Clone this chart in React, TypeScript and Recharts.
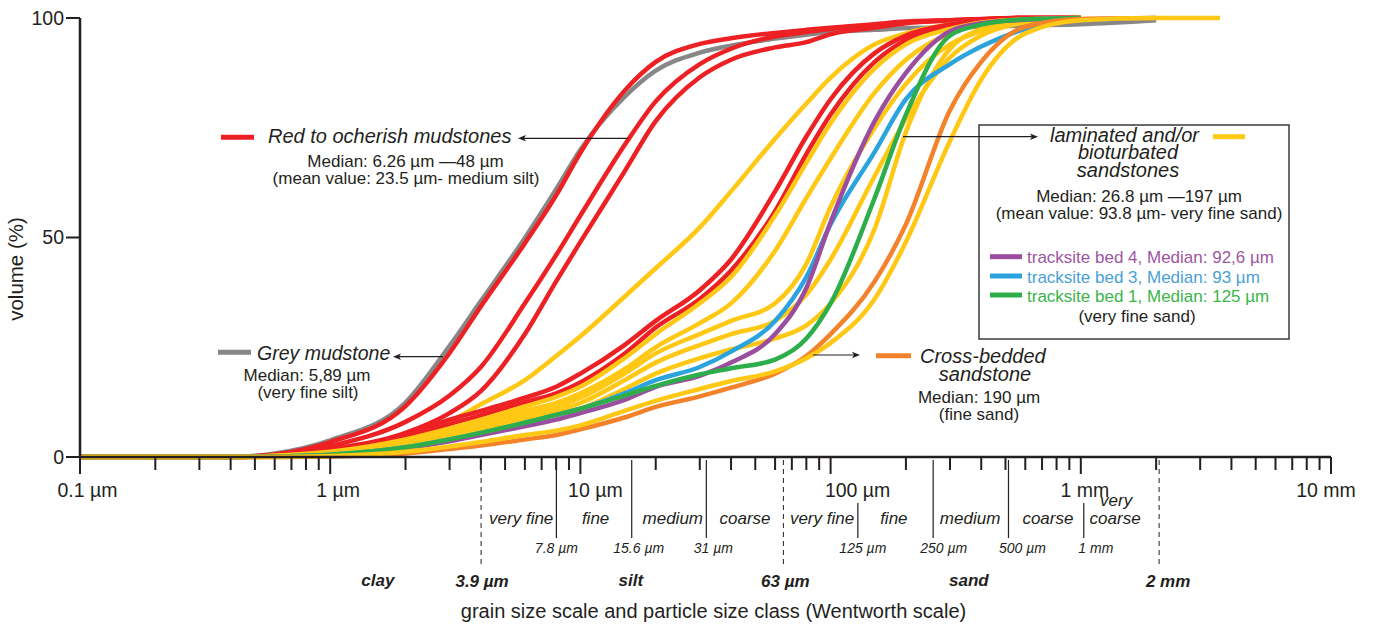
import React from "react";
import { LineChart, Line, XAxis, YAxis } from "recharts";

const FONT = '"Liberation Sans", Arial, Helvetica, sans-serif';
const INK = "#231F20";

const RED = "#ED2024";
const GREY = "#878787";
const YELLOW = "#FFC814";
const PURPLE = "#9A4F9E";
const BLUE = "#2BA3DC";
const GREEN = "#2DAE4B";
const ORANGE = "#F4822A";

// grain sizes (µm) where the cumulative curves were read
const sizes = [0.1, 0.4, 0.6, 1, 2, 3, 4, 6, 8, 10, 15, 20, 30, 40, 60, 80, 100, 150, 200, 300, 400, 600, 1000, 2000, 3600];

// cumulative volume (%) per sample
const greyMud = [0, 0, 0.8, 3.8, 12.4, 25.3, 35.5, 49.9, 61, 70, 82, 88, 92.1, 93.7, 95.3, 96.2, 96.8, 97.3, 97.7, 97.9, 98, 98.3, 98.6, 99.5, null];
const red1 = [0, 0, 0.6, 3.4, 11.6, 23.7, 34.3, 48.7, 59.6, 69.3, 83.4, 90, 94.1, 95.4, 96.6, 97.3, 97.8, 98.6, 99.2, 99.5, 99.7, 100, 100, null, null];
const red2 = [0, 0, 0.4, 2.5, 8, 14, 20.5, 35, 46, 55, 71, 81, 89.5, 93, 95.8, 96.8, 97.5, 98.4, 99, 99.5, 99.8, 100, 100, null, null];
const red3 = [0, 0, 0.3, 1.8, 5.5, 10, 15, 28, 40, 49, 65, 76.5, 86.5, 90.5, 93.3, 94.5, 96.3, 97.8, 98.8, 99.4, 99.7, 100, 100, null, null];
const red4 = [0, 0, 0.4, 1.5, 5, 8.5, 10.5, 13.5, 16, 19, 25.5, 31, 38, 45, 60.5, 73, 81.5, 92, 96, 98.5, 99.5, 100, 100, null, null];
const red5 = [0, 0, 0.3, 1.2, 4.3, 7.5, 9.5, 12.5, 14.5, 17, 23.5, 29.5, 36, 42.5, 56, 69, 78, 90, 95, 98.3, 99.4, 100, 100, null, null];
const lam1 = [0, 0, 0.1, 0.8, 3.5, 8, 12, 17.5, 23, 27.5, 36.5, 43, 52.3, 60.5, 72.5, 80.5, 86.4, 94, 96.5, 98.5, 99.3, 99.8, 100, null, null];
const lam2 = [0, 0, 0.3, 1.2, 4, 6.5, 8.5, 11.5, 13.7, 16, 22.5, 28, 35, 41, 55, 67, 76, 88.5, 94, 97.5, 99, 99.7, 100, null, null];
const lam3 = [0, 0, 0.2, 1, 3.5, 6, 7.8, 10.5, 12.3, 14.5, 20, 25, 30.5, 35, 47, 59, 68, 83, 90.5, 96.5, 98.5, 99.5, 100, null, null];
const lam4 = [0, 0, 0.2, 0.9, 3.2, 5.5, 7.2, 9.6, 11.4, 13.5, 19, 23.6, 28, 31, 35, 44, 57, 75, 85, 94, 97, 99, 100, null, null];
const lam5 = [0, 0, 0.1, 0.7, 2.8, 5, 6.6, 8.8, 10.5, 12.3, 17.5, 21.5, 25.5, 28, 31, 37, 45, 64, 77, 91, 96, 99, 100, null, null];
const lam6 = [0, 0, 0.1, 0.6, 2.5, 4.5, 5.9, 8, 9.6, 11, 15.5, 19, 22.5, 24.5, 27, 30, 35, 52, 74, 93, 97.5, 99.5, 100, null, null];
const lam7 = [0, 0, 0, 0.2, 1.2, 2.4, 3.4, 5, 6, 7.2, 10.5, 12.8, 15.5, 17.3, 19.5, 22.5, 26, 36, 49, 72, 86, 96.5, 99.5, 100, 100];
const bed4 = [0, 0, 0.1, 0.4, 2, 3.6, 5, 7, 8.5, 10, 13, 16, 18.5, 21.5, 28, 38.5, 53.5, 76.5, 87.5, 97, 98.8, 99.6, 100, null, null];
const bed3 = [0, 0, 0.1, 0.5, 2.2, 4, 5.5, 7.8, 9.6, 11, 14.5, 17.5, 20.5, 24, 31, 41, 53, 69.5, 81.5, 89.5, 93.5, 97.5, 99.6, 100, null];
const bed1 = [0, 0, 0.1, 0.5, 2.2, 4, 5.5, 7.8, 9.6, 11, 14, 16.2, 18.8, 20.2, 22.2, 27, 35, 59, 78, 96, 98.5, 99.7, 100, null, null];
const crossBed = [0, 0, 0, 0.1, 0.8, 1.8, 2.6, 4, 5, 6.3, 9, 11.4, 13.8, 15.8, 19, 23, 28, 40, 53, 79, 90, 98, 99.8, 100, null];

const series = [
  { key: "greyMud", values: greyMud, color: GREY },
  { key: "red1", values: red1, color: RED },
  { key: "red2", values: red2, color: RED },
  { key: "red3", values: red3, color: RED },
  { key: "lam1", values: lam1, color: YELLOW },
  { key: "red4", values: red4, color: RED },
  { key: "red5", values: red5, color: RED },
  { key: "lam2", values: lam2, color: YELLOW },
  { key: "lam3", values: lam3, color: YELLOW },
  { key: "lam4", values: lam4, color: YELLOW },
  { key: "lam5", values: lam5, color: YELLOW },
  { key: "lam6", values: lam6, color: YELLOW },
  { key: "bed3", values: bed3, color: BLUE },
  { key: "bed4", values: bed4, color: PURPLE },
  { key: "bed1", values: bed1, color: GREEN },
  { key: "crossBed", values: crossBed, color: ORANGE },
  { key: "lam7", values: lam7, color: YELLOW },
];

const rows = sizes.map((s, i) => {
  const row: Record<string, number | null> = { s };
  series.forEach((sr) => (row[sr.key] = sr.values[i]));
  return row;
});

// x axis: decades, minor ticks, Wentworth classes
const decadeTicks = [0.1, 1, 10, 100, 1000, 10000];
const decadeLabels = ["0.1 µm", "1 µm", "10 µm", "100 µm", "1 mm", "10 mm"];
const decadeDx = [7.5, 8, 15, 27, 4, -5];
const minorTicks = [2, 3, 4, 5, 6, 7, 8, 9].flatMap((d) =>
  [0.1, 1, 10, 100, 1000].map((m) => +(d * m).toPrecision(3))
);
const bounds = [3.9, 7.8, 15.6, 31, 63, 125, 250, 500, 1000, 2000];
const boundLabels = ["3.9 µm", "7.8 µm", "15.6 µm", "31 µm", "63 µm", "125 µm", "250 µm", "500 µm", "1 mm", "2 mm"];
const boundDx = [4, 3, 10, 10, 5, 8, 13.5, 17, 15, 12];
const mainBounds = [3.9, 63, 2000];
const subClassAt = [5.8, 11.5, 23.4, 45.5, 92.4, 179, 361, 739, 1371];
const subClassNames = ["very fine", "fine", "medium", "coarse", "very fine", "fine", "medium", "coarse", "very coarse"];
const classAt = [1.55, 15.9, 357];
const classNames = ["clay", "silt", "sand"];

const same = (a: number, b: number) => Math.abs(a - b) / b < 1e-6;
const findIn = (arr: number[], v: number) => arr.findIndex((a) => same(a, v));

const allTicks = Array.from(
  new Set([...decadeTicks, ...minorTicks, ...bounds, ...subClassAt, ...classAt])
).sort((a, b) => a - b);

function SizeTick(props: any) {
  const { x, y, payload } = props;
  const v = payload.value as number;
  const out: React.ReactNode[] = [];
  const d = findIn(decadeTicks, v);
  if (d >= 0) {
    out.push(<line key="dt" x1={x} x2={x} y1={y} y2={y + 17} stroke={INK} strokeWidth={2} />);
    out.push(
      <text key="dl" x={x + decadeDx[d]} y={y + 40} textAnchor="middle" fontSize={19.5} fill={INK}>
        {decadeLabels[d]}
      </text>
    );
  }
  if (findIn(minorTicks, v) >= 0) {
    out.push(<line key="mt" x1={x} x2={x} y1={y} y2={y + 13} stroke={INK} strokeWidth={2} />);
  }
  const b = findIn(bounds, v);
  if (b >= 0) {
    const bx = x + 3;
    if (findIn(mainBounds, v) >= 0) {
      out.push(
        <line key="bl" x1={bx} x2={bx} y1={y + 3} y2={y + 111} stroke={INK} strokeWidth={1} strokeDasharray="5 4" />
      );
      out.push(
        <text key="bt" x={x + boundDx[b]} y={y + 130} textAnchor="middle" fontSize={17} fontWeight="bold" fontStyle="italic" fill={INK}>
          {boundLabels[b]}
        </text>
      );
    } else {
      const top = v === 125 || v === 1000 ? y + 46 : y + 3;
      out.push(<line key="bl" x1={bx} x2={bx} y1={top} y2={y + 81} stroke={INK} strokeWidth={1.2} />);
      out.push(
        <text key="bt" x={x + boundDx[b]} y={y + 96} textAnchor="middle" fontSize={14} fontStyle="italic" fill={INK}>
          {boundLabels[b]}
        </text>
      );
    }
  }
  const sc = findIn(subClassAt, v);
  if (sc >= 0) {
    const name = subClassNames[sc];
    if (name === "very coarse") {
      out.push(
        <text key="sc" x={x} textAnchor="middle" fontSize={17} fontStyle="italic" fill={INK}>
          <tspan x={x + 1} y={y + 49}>very</tspan>
          <tspan x={x} y={y + 67}>coarse</tspan>
        </text>
      );
    } else {
      out.push(
        <text key="sc" x={x} y={y + 67} textAnchor="middle" fontSize={17} fontStyle="italic" fill={INK}>
          {name}
        </text>
      );
    }
  }
  const c = findIn(classAt, v);
  if (c >= 0) {
    out.push(
      <text key="cl" x={x} y={y + 129} textAnchor="middle" fontSize={17} fontWeight="bold" fontStyle="italic" fill={INK}>
        {classNames[c]}
      </text>
    );
  }
  return <g fontFamily={FONT}>{out}</g>;
}

function Arrow({ x1, x2, y }: { x1: number; x2: number; y: number }) {
  const dir = x2 > x1 ? 1 : -1;
  return (
    <g>
      <line x1={x1} y1={y} x2={x2 - dir * 5} y2={y} stroke={INK} strokeWidth={1.2} />
      <path d={`M${x2},${y} L${x2 - dir * 8},${y - 3.2} L${x2 - dir * 6},${y} L${x2 - dir * 8},${y + 3.2} Z`} fill={INK} />
    </g>
  );
}

function Annotations() {
  const t = { fontFamily: FONT, fill: INK } as const;
  return (
    <svg width={1377} height={628} style={{ position: "absolute", left: 0, top: 0, pointerEvents: "none" }}>
      {/* y axis title */}
      <text {...t} fontSize={20.5} textAnchor="middle" transform="translate(23,269) rotate(-90)">
        volume (%)
      </text>
      {/* x axis title */}
      <text {...t} fontSize={20} x={713.5} y={618} textAnchor="middle">
        grain size scale and particle size class (Wentworth scale)
      </text>

      {/* red mudstones */}
      <line x1={221} x2={254} y1={137.3} y2={137.3} stroke={RED} strokeWidth={5} />
      <text {...t} x={268} y={143} fontSize={20} fontStyle="italic">Red to ocherish mudstones</text>
      <Arrow x1={628} x2={518} y={138.3} />
      <text {...t} fontSize={17} textAnchor="middle">
        <tspan x={405.5} y={167}>Median: 6.26 µm —48 µm</tspan>
        <tspan x={406} y={184}>(mean value: 23.5 µm- medium silt)</tspan>
      </text>

      {/* grey mudstone */}
      <line x1={218} x2={251} y1={352.3} y2={352.3} stroke={GREY} strokeWidth={5} />
      <text {...t} x={257} y={360} fontSize={19.5} fontStyle="italic">Grey mudstone</text>
      <Arrow x1={443} x2={393} y={356.7} />
      <text {...t} fontSize={17} textAnchor="middle">
        <tspan x={307} y={381}>Median: 5,89 µm</tspan>
        <tspan x={308} y={398}>(very fine silt)</tspan>
      </text>

      {/* laminated sandstones box */}
      <rect x={979} y={125} width={310} height={214} fill="none" stroke="#3a3a3a" strokeWidth={1.5} />
      <Arrow x1={903} x2={1038} y={136.7} />
      <text {...t} fontSize={20} fontStyle="italic">
        <tspan x={1050} y={142} textAnchor="start">laminated and/or</tspan>
        <tspan x={1128} y={159.3} textAnchor="middle">bioturbated</tspan>
        <tspan x={1128} y={177} textAnchor="middle">sandstones</tspan>
      </text>
      <line x1={1213} x2={1245} y1={136.7} y2={136.7} stroke={YELLOW} strokeWidth={5} />
      <text {...t} fontSize={17} textAnchor="middle">
        <tspan x={1139} y={202}>Median: 26.8 µm —197 µm</tspan>
        <tspan x={1139} y={218.5}>(mean value: 93.8 µm- very fine sand)</tspan>
      </text>
      <line x1={990} x2={1022} y1={256.7} y2={256.7} stroke={PURPLE} strokeWidth={5} />
      <text fontFamily={FONT} fill="#9E56A2" x={1027} y={263.3} fontSize={17}>tracksite bed 4, Median: 92,6 µm</text>
      <line x1={990} x2={1022} y1={276} y2={276} stroke={BLUE} strokeWidth={5} />
      <text fontFamily={FONT} fill="#4A9FD6" x={1027} y={282.7} fontSize={17}>tracksite bed 3, Median: 93 µm</text>
      <line x1={990} x2={1022} y1={295} y2={295} stroke={GREEN} strokeWidth={5} />
      <text fontFamily={FONT} fill="#3AB54A" x={1027} y={301.7} fontSize={17}>tracksite bed 1, Median: 125 µm</text>
      <text {...t} x={1137} y={322} fontSize={17} textAnchor="middle">(very fine sand)</text>

      {/* cross-bedded */}
      <Arrow x1={813} x2={860} y={355} />
      <line x1={876} x2={911} y1={355.7} y2={355.7} stroke={ORANGE} strokeWidth={5} />
      <text {...t} fontSize={20} fontStyle="italic">
        <tspan x={920} y={363.3} textAnchor="start">Cross-bedded</tspan>
        <tspan x={985} y={381} textAnchor="middle">sandstone</tspan>
      </text>
      <text {...t} fontSize={17} textAnchor="middle">
        <tspan x={979} y={403}>Median: 190 µm</tspan>
        <tspan x={979} y={420}>(fine sand)</tspan>
      </text>
    </svg>
  );
}

export default function App() {
  return (
    <div style={{ position: "absolute", left: 0, top: 0, width: 1377, height: 628, background: "#fff" }}>
      <LineChart width={1377} height={628} data={rows} margin={{ top: 18, right: 46, bottom: 0, left: 0 }}>
        <XAxis
          dataKey="s"
          type="number"
          scale="log"
          domain={[0.1, 10000]}
          allowDataOverflow
          ticks={allTicks}
          interval={0}
          height={171}
          tickLine={false}
          tickSize={0}
          tickMargin={0}
          axisLine={{ stroke: INK, strokeWidth: 2.5 }}
          tick={(p: any) => <SizeTick {...p} />}
        />
        <YAxis
          type="number"
          domain={[0, 100]}
          ticks={[0, 50, 100]}
          width={80}
          tickSize={14}
          tickMargin={2}
          axisLine={{ stroke: INK, strokeWidth: 2.5 }}
          tickLine={{ stroke: INK, strokeWidth: 2 }}
          tick={{ fill: INK, fontSize: 19.5, fontFamily: FONT }}
        />
        {series.map((sr) => (
          <Line
            key={sr.key}
            dataKey={sr.key}
            type="monotone"
            stroke={sr.color}
            strokeWidth={4.5}
            dot={false}
            activeDot={false}
            isAnimationActive={false}
          />
        ))}
      </LineChart>
      <Annotations />
    </div>
  );
}
